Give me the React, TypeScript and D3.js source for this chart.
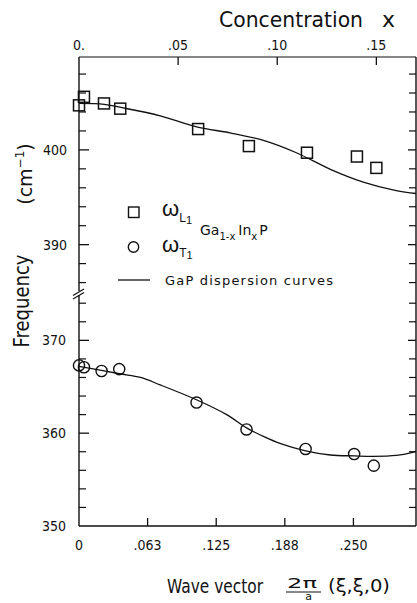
import React from "react";
import * as d3 from "d3";

// ---- data ----
// Ga(1-x)In(x)P measured points (vs concentration x)
const concL = [0, 0.0025, 0.0126, 0.0208, 0.0601, 0.0857, 0.115, 0.1402, 0.15];
const freqL = [404.7, 405.6, 404.9, 404.35, 402.2, 400.4, 399.7, 399.3, 398.1];
const concT = [0, 0.0025, 0.0114, 0.0203, 0.0593, 0.0845, 0.1143, 0.1388, 0.1487];
const freqT = [367.3, 367.1, 366.7, 366.9, 363.3, 360.4, 358.3, 357.75, 356.5];

// GaP dispersion curves (vs wave vector)
const waveL = [0, 0.023, 0.037, 0.074, 0.108, 0.1375, 0.168, 0.198, 0.229, 0.259, 0.289, 0.307];
const dispL = [404.9, 404.8, 404.5, 403.6, 402.4, 401.8, 401.0, 399.7, 397.95, 396.6, 395.7, 395.4];
const waveT = [0, 0.037, 0.056, 0.074, 0.107, 0.1345, 0.153, 0.168, 0.183, 0.2065, 0.229, 0.251, 0.268, 0.289, 0.303, 0.307];
const dispT = [367.2, 366.4, 366.0, 365.2, 363.6, 362.0, 360.55, 359.65, 358.9, 358.1, 357.65, 357.55, 357.5, 357.6, 357.9, 358.05];

// axes
const topTicks = [0, 0.05, 0.1, 0.15];
const topLabels = ["0.", ".05", ".10", ".15"];
const bottomTicks = [0, 0.0625, 0.125, 0.1875, 0.25];
const bottomLabels = ["0", ".063", ".125", ".188", ".250"];
const upperLabels = [400, 390];
const lowerLabels = [370, 360, 350];
const upperMinor = [386, 388, 392, 394, 396, 398, 402, 404, 406, 408];
const lowerMinor = [352, 354, 356, 358, 362, 364, 366, 368, 372, 374];

const W = 417;
const H = 603;
const L = 79, R = 416, T = 57, B = 526, BRK = 293;

const narrow = "'Liberation Sans Narrow', 'DejaVu Sans Condensed', 'Liberation Sans', sans-serif";
const sans = "'DejaVu Sans', 'Liberation Sans', sans-serif";

export default function App() {
  const xK = d3.scaleLinear().domain([0, 0.307]).range([L, R]);
  const xC = d3.scaleLinear().domain([0, 0.17]).range([L, R]);
  const yU = d3.scaleLinear().domain([384.9, 409.8]).range([BRK, T]);
  const yLo = d3.scaleLinear().domain([350, 375.1]).range([B, BRK]);

  const lineU = d3.line<number>().x((_, i) => xK(waveL[i])).y((d) => yU(d)).curve(d3.curveCatmullRom.alpha(0.5));
  const lineLo = d3.line<number>().x((_, i) => xK(waveT[i])).y((d) => yLo(d)).curve(d3.curveCatmullRom.alpha(0.5));

  const stroke = "#111";
  const sq = 11;

  return (
    <svg width={W} height={H} style={{ position: "absolute", left: 0, top: 0, background: "#fff" }}>
      <rect x={0} y={0} width={W} height={H} fill="#fff" />
      {/* frame */}
      <line x1={L} y1={T} x2={R} y2={T} stroke={stroke} strokeWidth={1.2} />
      <line x1={L} y1={B} x2={R} y2={B} stroke={stroke} strokeWidth={1.3} />
      <line x1={L} y1={T} x2={L} y2={B} stroke={stroke} strokeWidth={1.4} />
      <line x1={R} y1={T} x2={R} y2={B} stroke={stroke} strokeWidth={1.4} />

      {/* break marks on left axis */}
      <line x1={L} y1={BRK - 2} x2={L} y2={BRK + 2} stroke="#fff" strokeWidth={3} />
      <line x1={L - 6} y1={BRK + 2.5} x2={L + 5} y2={BRK - 4} stroke={stroke} strokeWidth={1.2} />
      <line x1={L - 6} y1={BRK + 6} x2={L + 5} y2={BRK - 0.5} stroke={stroke} strokeWidth={1.2} />

      {/* top axis */}
      {topTicks.map((t, i) => (
        <g key={"tt" + i}>
          {t > 0 && <line x1={xC(t)} y1={T} x2={xC(t)} y2={T + 8} stroke={stroke} strokeWidth={1.3} />}
          <text x={xC(t)} y={50} textAnchor="middle" fontFamily={narrow} fontSize={14} fill="#111">
            {topLabels[i]}
          </text>
        </g>
      ))}
      <text x={219} y={27} fontFamily={sans} fontSize={22} textLength={144} lengthAdjust="spacingAndGlyphs" fill="#111">
        Concentration
      </text>
      <text x={382} y={27} fontFamily={sans} fontSize={22} fill="#111">
        x
      </text>

      {/* bottom axis */}
      {bottomTicks.map((t, i) => (
        <g key={"bt" + i}>
          {t > 0 && <line x1={xK(t)} y1={B} x2={xK(t)} y2={B - 8} stroke={stroke} strokeWidth={1.3} />}
          <text x={xK(t)} y={550} textAnchor="middle" fontFamily={narrow} fontSize={14} fill="#111">
            {bottomLabels[i]}
          </text>
        </g>
      ))}
      <text x={167} y={593} fontFamily={sans} fontSize={19} textLength={96} lengthAdjust="spacingAndGlyphs" fill="#111">
        Wave vector
      </text>
      <text x={287} y={588} fontFamily={sans} fontSize={14} textLength={30} lengthAdjust="spacingAndGlyphs" fill="#111">
        2π
      </text>
      <line x1={286} y1={592} x2={321} y2={592} stroke={stroke} strokeWidth={1.2} />
      <text x={308.5} y={599.5} textAnchor="middle" fontFamily={sans} fontSize={11} fill="#111">
        a
      </text>
      <text x={328} y={592} fontFamily={sans} fontSize={18} textLength={62} lengthAdjust="spacingAndGlyphs" fill="#111">
        (ξ,ξ,0)
      </text>

      {/* left / right ticks */}
      {upperLabels.map((v) => (
        <g key={"ul" + v}>
          <line x1={L} y1={yU(v)} x2={L + 10} y2={yU(v)} stroke={stroke} strokeWidth={1.3} />
          <line x1={R} y1={yU(v)} x2={R - 8} y2={yU(v)} stroke={stroke} strokeWidth={1.3} />
          <text x={67} y={yU(v) + 5} textAnchor="end" fontFamily={narrow} fontSize={14} fill="#111">
            {v}
          </text>
        </g>
      ))}
      {lowerLabels.map((v) => (
        <g key={"ll" + v}>
          {v > 350 && <line x1={L} y1={yLo(v)} x2={L + 10} y2={yLo(v)} stroke={stroke} strokeWidth={1.3} />}
          {v > 350 && <line x1={R} y1={yLo(v)} x2={R - 8} y2={yLo(v)} stroke={stroke} strokeWidth={1.3} />}
          <text x={66} y={yLo(v) + 5} textAnchor="end" fontFamily={narrow} fontSize={14} fill="#111">
            {v}
          </text>
        </g>
      ))}
      {upperMinor.map((v) => (
        <g key={"um" + v}>
          <line x1={L} y1={yU(v)} x2={L + 7} y2={yU(v)} stroke={stroke} strokeWidth={1.2} />
          <line x1={R} y1={yU(v)} x2={R - 7} y2={yU(v)} stroke={stroke} strokeWidth={1.2} />
        </g>
      ))}
      {lowerMinor.map((v) => (
        <g key={"lm" + v}>
          <line x1={L} y1={yLo(v)} x2={L + 7} y2={yLo(v)} stroke={stroke} strokeWidth={1.2} />
          <line x1={R} y1={yLo(v)} x2={R - 7} y2={yLo(v)} stroke={stroke} strokeWidth={1.2} />
        </g>
      ))}

      {/* y axis title */}
      <text transform="translate(29,301) rotate(-90)" textAnchor="middle" fontFamily={sans} fontSize={21} textLength={93} lengthAdjust="spacingAndGlyphs" fill="#111">
        Frequency
      </text>
      <text transform="translate(32,174) rotate(-90)" textAnchor="middle" fontFamily={sans} fontSize={19} fill="#111">
        (cm<tspan fontSize={12} dy={-8}>−1</tspan><tspan dy={8}>)</tspan>
      </text>

      {/* curves */}
      <path d={lineU(dispL) || ""} fill="none" stroke={stroke} strokeWidth={1.3} />
      <path d={lineLo(dispT) || ""} fill="none" stroke={stroke} strokeWidth={1.3} />

      {/* points */}
      {concL.map((c, i) => (
        <rect key={"s" + i} x={xC(c) - sq / 2} y={yU(freqL[i]) - sq / 2} width={sq} height={sq} fill="none" stroke={stroke} strokeWidth={1.5} />
      ))}
      {concT.map((c, i) => (
        <circle key={"c" + i} cx={xC(c)} cy={yLo(freqT[i])} r={5.6} fill="none" stroke={stroke} strokeWidth={1.4} />
      ))}

      {/* legend */}
      <rect x={128.5} y={207} width={10.5} height={10.5} fill="none" stroke={stroke} strokeWidth={1.4} />
      <circle cx={133.5} cy={247} r={5.2} fill="none" stroke={stroke} strokeWidth={1.4} />
      <text x={162} y={216} fontFamily="'Liberation Sans', sans-serif" fontSize={22} fill="#111">
        ω<tspan fontSize={12} dy={6}>L</tspan><tspan fontSize={11} dy={2}>1</tspan>
      </text>
      <text x={162} y={252} fontFamily="'Liberation Sans', sans-serif" fontSize={22} fill="#111">
        ω<tspan fontSize={12} dy={5}>T</tspan><tspan fontSize={11} dy={2}>1</tspan>
      </text>
      <text x={200} y={235} fontFamily={sans} fontSize={14} fill="#111">
        Ga<tspan fontSize={10} dy={5}>1-x</tspan><tspan fontSize={14} dy={-5} dx={3}>In</tspan><tspan fontSize={10} dy={5}>x</tspan><tspan fontSize={14} dy={-5} dx={2}>P</tspan>
      </text>
      <line x1={118} y1={280} x2={150} y2={280} stroke={stroke} strokeWidth={1.3} />
      <text x={165} y={284.5} fontFamily={sans} fontSize={13} textLength={168} lengthAdjust="spacing" fill="#111">
        GaP dispersion  curves
      </text>
    </svg>
  );
}
